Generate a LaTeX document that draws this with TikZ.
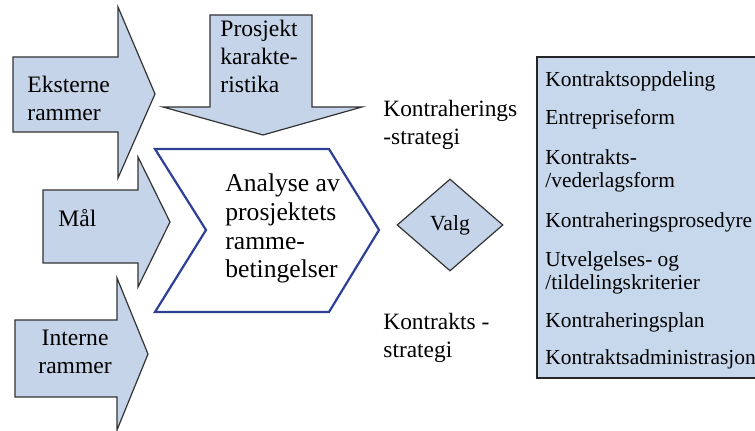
\documentclass[tikz,border=0pt]{standalone}
\usepackage{fontspec}
\setmainfont{Liberation Serif}
\usetikzlibrary{shapes.geometric}
\definecolor{arrowfill}{RGB}{197,212,232}
\definecolor{boxfill}{RGB}{200,216,236}
\definecolor{chevblue}{RGB}{46,64,150}
\begin{document}
\begin{tikzpicture}[x=0.5pt,y=-0.5pt]
  \tikzstyle{bigarrow}=[draw=black!80,fill=arrowfill,line width=0.6pt]
  \tikzstyle{chevron}=[draw=chevblue,fill=white,line width=1.1pt]
  \tikzstyle{arrowtext}=[anchor=base west,inner sep=0pt,align=left,font=\fontsize{11.8}{14}\selectfont]
  \tikzstyle{maintext}=[anchor=base west,inner sep=0pt,align=left,font=\fontsize{12.8}{14.4}\selectfont]
  \tikzstyle{strategy}=[anchor=base west,inner sep=0pt,align=left,font=\fontsize{11.7}{14.2}\selectfont]
  \tikzstyle{item}=[anchor=base west,inner sep=0pt,align=left,font=\fontsize{10.7}{11.6}\selectfont]
  \useasboundingbox (0,0) rectangle (755,431);
  % input arrows
  \draw[bigarrow] (13,57) -- (118,57) -- (118,7) -- (155,94) -- (118,178) -- (118,132) -- (13,132) -- cycle;
  \draw[bigarrow] (43,190) -- (138,190) -- (138,157) -- (170,222) -- (138,287) -- (138,263) -- (43,263) -- cycle;
  \draw[bigarrow] (15,320) -- (117,320) -- (117,278) -- (148,354) -- (117,430) -- (117,397) -- (15,397) -- cycle;
  \draw[bigarrow] (210,15) -- (312,15) -- (312,107) -- (362,107) -- (263,135) -- (163,107) -- (210,107) -- cycle;
  \node[arrowtext] (ekst) at (27,121) {Eksterne\\rammer};
  \node[arrowtext] (maal) at (58,227) {Mål};
  \node[arrowtext,align=center] (int) at (38,374) {Interne\\rammer};
  \node[arrowtext] (prosj) at (220,93) {Prosjekt\\karakte-\\ristika};
  % analyse
  \draw[chevron] (155,149) -- (329,149) -- (379,230) -- (329,312) -- (155,312) -- (206,230) -- cycle;
  \node[maintext] (analyse) at (225,278) {Analyse av\\prosjektets\\ramme-\\betingelser};
  % strategies and choice
  \node[strategy] (kstrat) at (383,145) {Kontraherings\\-strategi};
  \node[strategy] (kontr) at (383,358) {Kontrakts -\\strategi};
  \node[diamond,draw=black!80,fill=arrowfill,line width=0.6pt,minimum width=53pt,minimum height=46pt,inner sep=0pt,font=\fontsize{10.8}{12}\selectfont] (valg) at (450,225) {Valg};
  % list
  \draw[draw=black!85,fill=boxfill,line width=0.9pt] (537,57) rectangle (775,378);
  \node[item] (i1) at (545,87) {Kontraktsoppdeling};
  \node[item] (i2) at (545,125) {Entrepriseform};
  \node[item] (i3) at (545,188) {Kontrakts-\\/vederlagsform};
  \node[item] (i4) at (545,228) {Kontraheringsprosedyre};
  \node[item] (i5) at (545,290) {Utvelgelses- og\\/tildelingskriterier};
  \node[item] (i6) at (545,328) {Kontraheringsplan};
  \node[item] (i7) at (545,365) {Kontraktsadministrasjon};
\end{tikzpicture}
\end{document}
